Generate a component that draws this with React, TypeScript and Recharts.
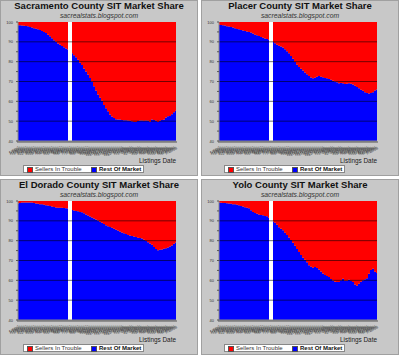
import { AreaChart, Area, XAxis, YAxis, ReferenceLine, ReferenceArea } from "recharts"

const dates = [
    "1/6/07", "1/13/07", "1/20/07", "1/27/07", "2/3/07", "2/10/07", "2/17/07", "2/24/07",
    "3/3/07", "3/10/07", "3/17/07", "3/24/07", "3/31/07", "4/7/07", "4/14/07", "4/21/07",
    "4/28/07", "5/5/07", "5/12/07", "5/19/07", "5/26/07", "6/2/07", "6/9/07", "6/16/07",
    "6/23/07", "6/30/07", "7/7/07", "7/14/07", "7/21/07", "7/28/07", "8/4/07", "8/11/07",
    "8/18/07", "8/25/07", "9/1/07", "9/8/07", "9/15/07", "9/22/07", "9/29/07", "10/6/07",
    "10/13/07", "10/20/07", "10/27/07", "11/3/07", "11/10/07", "11/17/07", "11/24/07", "12/1/07",
    "12/8/07", "12/15/07", "12/22/07", "12/29/07", "1/5/08", "1/12/08", "1/19/08", "1/26/08",
    "2/2/08", "2/9/08", "2/16/08", "2/23/08", "3/1/08", "3/8/08", "3/15/08", "3/22/08",
    "3/29/08", "4/5/08", "4/12/08", "4/19/08", "4/26/08", "5/3/08", "5/10/08", "5/17/08",
    "5/24/08", "5/31/08", "6/7/08", "6/14/08", "6/21/08", "6/28/08", "7/5/08", "7/12/08",
]

// "Rest Of Market" share (%), the rest up to 100 is "Sellers In Trouble"
const sacramento = [
    98.3, 98.3, 98.2, 98.1, 98.0, 97.8, 97.5, 97.2, 96.9, 96.6, 96.3, 96.0, 95.5, 95.0, 94.4, 93.6,
    92.8, 91.8, 90.8, 90.0, 89.2, 88.5, 87.9, 87.3, 86.7, 86.1, 85.2, 84.2, 83.2, 82.2, 81.0, 79.4,
    78.3, 76.5, 75.0, 73.5, 71.8, 70.0, 67.6, 65.5, 63.5, 61.8, 60.3, 58.2, 56.5, 55.0, 53.3, 52.4,
    51.6, 51.0, 50.9, 50.8, 50.6, 50.5, 50.5, 50.3, 50.2, 49.9, 49.6, 49.6, 50.1, 50.3, 50.3, 50.2,
    50.3, 50.2, 49.7, 50.8, 50.6, 50.2, 49.6, 50.2, 50.6, 50.8, 51.8, 52.5, 52.6, 53.5, 54.5, 55.3,
]
const placer = [
    98.6, 98.5, 98.4, 98.2, 97.9, 97.7, 97.5, 97.2, 96.9, 96.5, 96.3, 96.0, 95.7, 95.5, 95.2, 95.0,
    94.7, 94.2, 93.6, 93.3, 92.9, 92.5, 92.1, 91.7, 91.4, 91.0, 90.5, 89.9, 89.3, 88.5, 88.0, 87.6,
    87.1, 86.3, 85.2, 84.2, 82.8, 81.5, 79.8, 78.5, 77.3, 76.4, 75.6, 74.5, 73.6, 72.8, 72.0, 71.6,
    71.9, 72.4, 72.8, 72.4, 72.1, 71.8, 71.6, 71.3, 70.9, 70.4, 70.0, 69.6, 69.1, 69.2, 69.1, 68.8,
    68.9, 69.1, 68.9, 68.5, 67.8, 67.2, 66.6, 65.9, 65.3, 64.6, 64.2, 64.0, 64.2, 64.6, 65.4, 66.0,
]
const elDorado = [
    98.8, 99.0, 99.2, 99.3, 99.3, 99.3, 99.3, 99.2, 99.0, 98.8, 98.6, 98.4, 98.3, 98.1, 97.9, 97.7,
    97.5, 97.2, 97.0, 96.7, 96.6, 96.6, 96.6, 96.5, 96.4, 96.2, 95.8, 95.4, 95.2, 95.0, 94.8, 94.5,
    94.3, 93.8, 93.2, 92.7, 92.2, 91.7, 91.2, 90.7, 90.2, 89.6, 89.0, 88.4, 87.8, 87.3, 86.9, 86.5,
    86.0, 85.5, 85.1, 84.6, 84.1, 83.7, 83.3, 82.9, 82.6, 82.4, 82.1, 81.8, 81.5, 81.3, 81.1, 80.5,
    79.8, 79.2, 78.6, 78.0, 76.8, 75.8, 75.2, 75.4, 75.5, 75.9, 76.2, 76.6, 77.1, 77.6, 78.4, 79.1,
]
const yolo = [
    99.2, 99.1, 99.0, 99.0, 98.9, 98.7, 98.6, 98.4, 98.3, 98.1, 97.8, 97.5, 97.2, 96.9, 96.6, 96.3,
    95.3, 94.5, 93.9, 93.6, 93.2, 93.0, 92.8, 92.5, 92.3, 91.5, 90.7, 89.7, 89.0, 88.0, 86.8, 86.0,
    85.3, 84.0, 82.8, 81.6, 80.3, 79.0, 77.4, 75.8, 74.3, 72.8, 71.4, 70.4, 69.1, 67.6, 66.8, 66.3,
    66.7, 66.2, 65.4, 64.4, 63.4, 62.7, 62.2, 61.7, 60.7, 59.9, 59.3, 59.1, 59.1, 60.0, 60.8, 59.8,
    59.8, 60.3, 59.7, 59.1, 57.9, 57.3, 58.3, 59.3, 60.0, 60.5, 61.0, 63.3, 65.2, 65.8, 64.3, 63.7,
]

// weeks with no listings data (white gap)
const gapFrom = dates[25]
const gapTo = dates[27]

const yTicks = [40, 45, 50, 55, 60, 65, 70, 75, 80, 85, 90, 95, 100]
const gridValues = [50, 60, 70, 80, 90]

const font = '"Liberation Sans", Arial, sans-serif'

function YTick({ x, y, payload }: any) {
    if (payload.value % 10 !== 0) return <g />
    return (
        <text x={x - 1} y={y} dy={1.5} textAnchor="end" fontSize={4} fill="#333" fontFamily={font}>
            {payload.value}
        </text>
    )
}

function DateTick({ x, y, payload }: any) {
    const ty = y + 1
    return (
        <text
            x={x}
            y={ty}
            transform={`rotate(-28 ${x} ${ty})`}
            textAnchor="end"
            dominantBaseline="hanging"
            fontSize={4}
            fill="#444"
            fontFamily={font}
        >
            {payload.value}
        </text>
    )
}

function Panel({ title, rest, left, top }: { title: string, rest: number[], left: number, top: number }) {
    const data = dates.map((d, i) => ({
        date: d,
        rest: rest[i],
        sit: Number((100 - rest[i]).toFixed(1)),
    }))

    return (
        <div
            style={{
                position: "absolute",
                left,
                top,
                width: 198,
                height: 176,
                background: "#c8c8c8",
                boxSizing: "border-box",
                border: "1px solid #a0a0a0",
                fontFamily: font,
                color: "#111",
            }}
        >
            <div style={{ position: "absolute", top: 0, left: 0, width: 196, textAlign: "center", fontWeight: "bold", fontSize: 9.5, lineHeight: "10px" }}>
                {title}
            </div>
            <div style={{ position: "absolute", top: 11, left: 0, width: 196, textAlign: "center", fontStyle: "italic", fontSize: 6.75, lineHeight: "8px", color: "#333" }}>
                sacrealstats.blogspot.com
            </div>

            <AreaChart width={196} height={174} data={data} margin={{ top: 21, right: 21, left: 0, bottom: 0 }}>
                <XAxis
                    dataKey="date"
                    interval={0}
                    height={34}
                    tick={<DateTick />}
                    tickSize={2}
                    tickLine={{ stroke: "#555" }}
                    axisLine={{ stroke: "#888" }}
                />
                <YAxis
                    domain={[40, 100]}
                    allowDataOverflow
                    ticks={yTicks}
                    interval={0}
                    width={17}
                    tick={<YTick />}
                    tickSize={2}
                    tickLine={{ stroke: "#555" }}
                    axisLine={{ stroke: "#888" }}
                />
                <Area
                    type="step"
                    dataKey="rest"
                    stackId="share"
                    stroke="none"
                    fill="#0000ff"
                    fillOpacity={1}
                    dot={false}
                    activeDot={false}
                    isAnimationActive={false}
                />
                <Area
                    type="step"
                    dataKey="sit"
                    stackId="share"
                    stroke="none"
                    fill="#ff0000"
                    fillOpacity={1}
                    dot={false}
                    activeDot={false}
                    isAnimationActive={false}
                />
                {gridValues.map((v) => (
                    <ReferenceLine key={v} y={v} stroke="#000" strokeOpacity={0.55} />
                ))}
                <ReferenceArea x1={gapFrom} x2={gapTo} fill="#fff" fillOpacity={1} stroke="none" />
            </AreaChart>

            <div style={{ position: "absolute", right: 21, top: 156, fontSize: 6.4, lineHeight: "8px", color: "#222" }}>
                Listings Date
            </div>

            {/* legend */}
            <div
                style={{
                    position: "absolute",
                    left: 22,
                    top: 164,
                    width: 121,
                    height: 8,
                    boxSizing: "border-box",
                    background: "#fff",
                    border: "1px solid #888",
                    fontSize: 6,
                    lineHeight: "6px",
                }}
            >
                <span style={{ position: "absolute", left: 3, top: 0.5, width: 4, height: 4, background: "#ff0000", border: "0.5px solid #555" }} />
                <span style={{ position: "absolute", left: 11, top: 0, color: "#333" }}>Sellers In Trouble</span>
                <span style={{ position: "absolute", left: 67, top: 0.5, width: 4, height: 4, background: "#0000ff", border: "0.5px solid #555" }} />
                <span style={{ position: "absolute", left: 75, top: 0, fontWeight: "bold", color: "#111" }}>Rest Of Market</span>
            </div>
        </div>
    )
}

export default function App() {
    return (
        <div style={{ position: "absolute", left: 0, top: 0, width: 400, height: 356, background: "#fff", overflow: "hidden" }}>
            <Panel title="Sacramento County SIT Market Share" rest={sacramento} left={0} top={0} />
            <Panel title="Placer County SIT Market Share" rest={placer} left={201} top={0} />
            <Panel title="El Dorado County SIT Market Share" rest={elDorado} left={0} top={179} />
            <Panel title="Yolo County SIT Market Share" rest={yolo} left={201} top={179} />
        </div>
    )
}
